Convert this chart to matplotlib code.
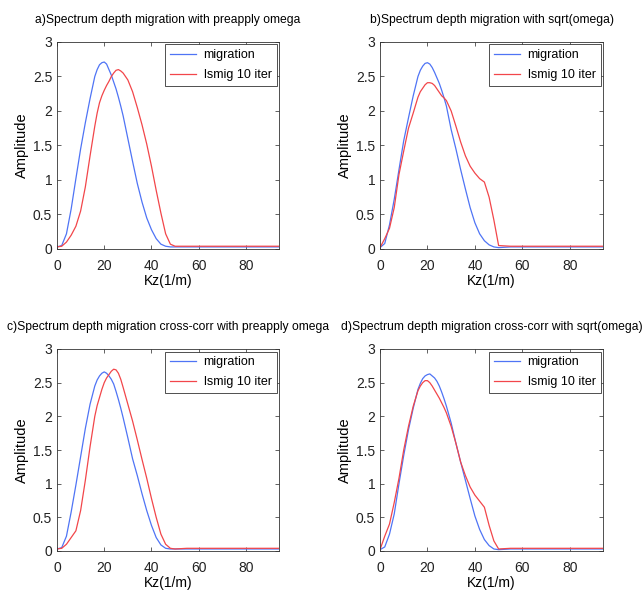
import matplotlib
matplotlib.use("Agg")
import matplotlib.pyplot as plt

plt.rcParams['font.family'] = ['Liberation Sans', 'DejaVu Sans']

# wavenumber samples (1/m), denser around the peaks
kz = [0, 2, 4, 6, 8, 10, 12, 14, 16,
      17, 18, 19, 20, 21, 22, 23, 24, 25, 26, 27, 28,
      30, 32, 34, 36, 38, 40, 42, 44, 46, 48, 50,
      55, 60, 70, 80, 90, 94]

tail3 = [0.03] * 6
tail4 = [0.04] * 6

# a) preapply omega
mig_a = [0.03, 0.05, 0.22, 0.58, 1.02, 1.45, 1.83, 2.18, 2.50,
         2.60, 2.67, 2.70, 2.71, 2.68, 2.60, 2.52, 2.42, 2.32, 2.20, 2.07, 1.93,
         1.60, 1.27, 0.95, 0.68, 0.45, 0.28, 0.15, 0.07, 0.04, 0.03, 0.03] + tail3
ls_a = [0.03, 0.04, 0.10, 0.20, 0.33, 0.55, 0.90, 1.35, 1.78,
        1.97, 2.12, 2.22, 2.30, 2.37, 2.43, 2.50, 2.55, 2.59, 2.60, 2.58, 2.55,
        2.45, 2.28, 2.05, 1.80, 1.52, 1.20, 0.85, 0.52, 0.22, 0.07, 0.04] + tail4

# b) sqrt(omega)
mig_b = [0.02, 0.08, 0.35, 0.72, 1.15, 1.57, 1.90, 2.22, 2.50,
         2.59, 2.65, 2.69, 2.70, 2.68, 2.63, 2.56, 2.48, 2.40, 2.30, 2.19, 2.07,
         1.73, 1.45, 1.15, 0.87, 0.60, 0.38, 0.22, 0.12, 0.06, 0.03, 0.02] + tail3
ls_b = [0.02, 0.15, 0.30, 0.60, 1.08, 1.42, 1.75, 1.97, 2.20,
        2.28, 2.33, 2.38, 2.41, 2.41, 2.40, 2.37, 2.32, 2.27, 2.22, 2.19, 2.15,
        2.00, 1.78, 1.55, 1.35, 1.20, 1.10, 1.02, 0.97, 0.75, 0.42, 0.05] + tail4

# c) cross-corr, preapply omega
mig_c = [0.03, 0.05, 0.22, 0.58, 0.98, 1.40, 1.82, 2.18, 2.45,
         2.54, 2.60, 2.64, 2.66, 2.64, 2.60, 2.55, 2.48, 2.37, 2.25, 2.12, 1.98,
         1.68, 1.37, 1.12, 0.85, 0.60, 0.38, 0.20, 0.09, 0.04, 0.03, 0.03] + tail3
ls_c = [0.03, 0.04, 0.10, 0.20, 0.30, 0.60, 1.05, 1.55, 2.00,
        2.16, 2.28, 2.40, 2.50, 2.57, 2.62, 2.67, 2.70, 2.69, 2.64, 2.55, 2.43,
        2.18, 1.93, 1.65, 1.36, 1.08, 0.78, 0.50, 0.25, 0.10, 0.04, 0.03] + tail4

# d) cross-corr, sqrt(omega)
mig_d = [0.02, 0.06, 0.25, 0.55, 1.00, 1.42, 1.80, 2.12, 2.40,
         2.49, 2.56, 2.60, 2.62, 2.63, 2.60, 2.57, 2.52, 2.45, 2.36, 2.26, 2.15,
         1.90, 1.60, 1.32, 1.05, 0.78, 0.52, 0.32, 0.17, 0.08, 0.03, 0.02] + tail3
ls_d = [0.02, 0.22, 0.40, 0.72, 1.08, 1.50, 1.85, 2.15, 2.38,
        2.45, 2.50, 2.53, 2.53, 2.50, 2.45, 2.39, 2.33, 2.27, 2.20, 2.13, 2.05,
        1.85, 1.60, 1.32, 1.12, 0.95, 0.83, 0.74, 0.65, 0.38, 0.15, 0.03] + tail4

titles = ["a)Spectrum depth migration with preapply omega",
          "b)Spectrum depth migration with sqrt(omega)",
          "c)Spectrum depth migration cross-corr with preapply omega",
          "d)Spectrum depth migration cross-corr with sqrt(omega)"]
labels = ["migration", "lsmig 10 iter"]
xticks = [0, 20, 40, 60, 80]
yticks = [0, 0.5, 1, 1.5, 2, 2.5, 3]
yticklabels = ["0", "0.5", "1", "1.5", "2", "2.5", "3"]

W, H = 644, 594
fig = plt.figure(figsize=(W / 100, H / 100), dpi=100)

# axes boxes in pixels: left, top, right, bottom
boxes = [(57, 42, 279, 249), (380, 42, 603, 249),
         (57, 349, 279, 551), (380, 349, 603, 551)]
data = [(mig_a, ls_a), (mig_b, ls_b), (mig_c, ls_c), (mig_d, ls_d)]

for (l, t, r, b), title, (mig, ls) in zip(boxes, titles, data):
    ax = fig.add_axes([l / W, 1 - b / H, (r - l) / W, (b - t) / H])
    ax.plot(kz, mig, color='#4f74f5', lw=0.9, label=labels[0])
    ax.plot(kz, ls, color='#f2464a', lw=0.9, label=labels[1])
    ax.set_xlim(0, 94)
    ax.set_ylim(0, 3)
    ax.set_xticks(xticks)
    ax.set_yticks(yticks)
    ax.set_yticklabels(yticklabels)
    ax.tick_params(direction='in', top=True, right=True, length=3, width=0.5,
                   labelsize=10, colors='#222222')
    ax.tick_params(axis='x', pad=7)
    for sp in ax.spines.values():
        sp.set_linewidth(0.6)
        sp.set_color('#333333')
    ax.set_title(title, fontsize=8.7, pad=14)
    ax.set_xlabel("Kz(1/m)", fontsize=10, labelpad=1)
    ax.set_ylabel("Amplitude", fontsize=10.5, labelpad=3)
    leg = ax.legend(loc='upper right', fontsize=9, frameon=True, fancybox=False,
                    framealpha=1, edgecolor='#333333', borderaxespad=0.2,
                    handlelength=2.1, handletextpad=0.6, labelspacing=0.6,
                    borderpad=0.4)
    leg.get_frame().set_linewidth(0.6)

fig.savefig("out.png", dpi=100)
